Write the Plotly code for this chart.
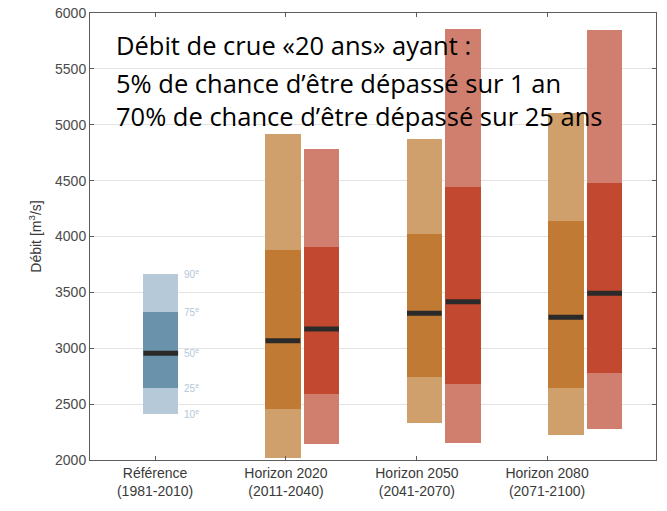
import plotly.graph_objects as go

# ---- data ----
periods = ["Référence<br>(1981-2010)", "Horizon 2020<br>(2011-2040)",
           "Horizon 2050<br>(2041-2070)", "Horizon 2080<br>(2071-2100)"]
percentile_names = ["10", "25", "50", "75", "90"]

# reference period quantiles (10, 25, 50, 75, 90)
ref_quantiles = [2412, 2644, 2955, 3322, 3662]

# scenario A (orange) per horizon 2020, 2050, 2080
a_p10 = [2020, 2334, 2224]
a_p25 = [2459, 2740, 2644]
a_p50 = [3068, 3313, 3277]
a_p75 = [3879, 4020, 4141]
a_p90 = [4915, 4875, 5102]

# scenario B (red) per horizon 2020, 2050, 2080
b_p10 = [2143, 2155, 2277]
b_p25 = [2591, 2680, 2781]
b_p50 = [3172, 3417, 3492]
b_p75 = [3903, 4440, 4476]
b_p90 = [4780, 5857, 5845]

text_lines = ["Débit de crue «20 ans» ayant :",
              "5% de chance d’être dépassé sur 1 an",
              "70% de chance d’être dépassé sur 25 ans"]

# ---- layout constants ----
group_pos = [1, 2, 3, 4]
tick_pos = [0.96, 1.885, 2.81, 3.73]
offset = 0.137
bw = 0.25
W, H = 667, 511
ML, MR, MT, MB = 90, 11, 13, 51
plot_w = W - ML - MR
plot_h = H - MT - MB

fig = go.Figure()

def add_box(xs, p10, p25, p50, p75, p90, light, dark):
    fig.add_trace(go.Bar(x=xs, base=p10, y=[h - l for h, l in zip(p90, p10)],
                         width=bw, marker=dict(color=light, line=dict(width=0)),
                         showlegend=False, hoverinfo="skip"))
    fig.add_trace(go.Bar(x=xs, base=p25, y=[h - l for h, l in zip(p75, p25)],
                         width=bw, marker=dict(color=dark, line=dict(width=0)),
                         showlegend=False, hoverinfo="skip"))
    fig.add_trace(go.Scatter(x=xs, y=p50, mode="markers",
                             marker=dict(symbol="line-ew", size=24.8,
                                         line=dict(width=5, color="#2a2a2a")),
                             showlegend=False, hoverinfo="skip"))

# reference
r10, r25, r50, r75, r90 = ref_quantiles
add_box([group_pos[0]], [r10], [r25], [r50], [r75], [r90], "#b5c9d8", "#6a93ab")

xa = [g - offset for g in group_pos[1:]]
xb = [g + offset for g in group_pos[1:]]
add_box(xa, a_p10, a_p25, a_p50, a_p75, a_p90, "#cfa06c", "#c07a33")
add_box(xb, b_p10, b_p25, b_p50, b_p75, b_p90, "#d07f6e", "#c2482f")

annotations = []
for name, val in zip(percentile_names, ref_quantiles):
    annotations.append(dict(x=group_pos[0] + bw / 2, y=val, xref="x", yref="y",
                            text=f"{name}<sup>e</sup>", showarrow=False,
                            xanchor="left", yanchor="middle", xshift=4,
                            font=dict(family="Liberation Sans", size=10, color="#b4c7d7")))

# text line centres, in pixels below plot top
line_y_px = [32, 69.5, 103.5]
for t, ypx in zip(text_lines, line_y_px):
    annotations.append(dict(x=24 / plot_w, y=1 - ypx / plot_h, xref="paper", yref="paper",
                            text=t, showarrow=False, xanchor="left", yanchor="middle",
                            font=dict(family="Open Sans", size=25.5, color="#000000")))

fig.update_layout(
    width=W, height=H,
    margin=dict(l=ML, r=MR, t=MT, b=MB, autoexpand=False),
    paper_bgcolor="white", plot_bgcolor="white",
    barmode="overlay", bargap=0,
    annotations=annotations,
    font=dict(family="Liberation Sans", size=14, color="#454545"),
    xaxis=dict(range=[0.5, 4.5], tickmode="array", tickvals=tick_pos, ticktext=periods,
               showgrid=False, zeroline=False, showline=True, linecolor="#5c5c5c",
               linewidth=1, mirror="ticks", ticks="inside", ticklen=4, tickcolor="#5c5c5c",
               tickfont=dict(size=14, color="#3a3a3a"), automargin=False),
    yaxis=dict(range=[2000, 6000], dtick=500, showgrid=True, gridcolor="#e3e3e3",
               zeroline=False, showline=True, linecolor="#5c5c5c", linewidth=1,
               mirror="ticks", ticks="inside", ticklen=4, tickcolor="#5c5c5c",
               tickfont=dict(size=14, color="#4a4a4a"), ticklabeloverflow="allow",
               automargin=False,
               title=dict(text="Débit [m<sup>3</sup>/s]", standoff=10,
                          font=dict(size=14, color="#3a3a3a"))),
)

fig.write_html("out.html", config={"displayModeBar": False},
               post_script="document.body.style.margin='0';document.body.style.overflow='hidden';")
